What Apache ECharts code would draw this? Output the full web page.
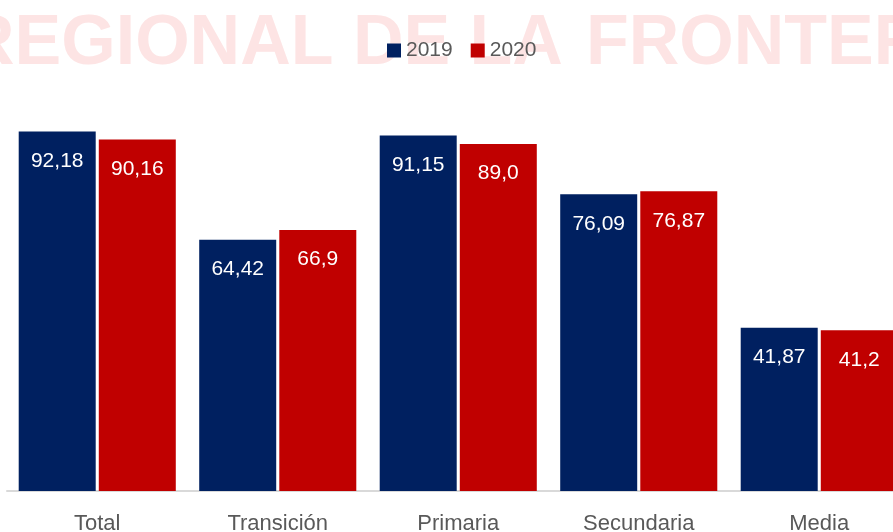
<!DOCTYPE html>
<html lang="es">
<head>
    <meta charset="UTF-8">
    <title>Cobertura 2019 - 2020</title>
    <script src="https://cdn.jsdelivr.net/npm/echarts@6/dist/echarts.min.js"></script>
</head>
<style>
    body {
        margin: 0;
        padding: 0;
        background: #ffffff;
    }
</style>
<body>

<div id="main" style="width: 893px;height: 532px;"></div>

<script>
    // datos
    var categorias = ['Total', 'Transición', 'Primaria', 'Secundaria', 'Media'];
    var valores2019 = [92.18, 64.42, 91.15, 76.09, 41.87];
    var valores2020 = [90.16, 66.9, 89.0, 76.87, 41.2];
    var etiquetas2019 = ['92,18', '64,42', '91,15', '76,09', '41,87'];
    var etiquetas2020 = ['90,16', '66,9', '89,0', '76,87', '41,2'];

    var fuente = '"Liberation Sans", Arial, sans-serif';

    function etiqueta(textos) {
        return {
            show: true,
            position: 'insideTop',
            distance: 19,
            color: '#ffffff',
            fontFamily: fuente,
            fontSize: 21,
            formatter: function (p) { return textos[p.dataIndex]; }
        };
    }

    var myChart = echarts.init(document.getElementById('main'));

    var option = {
        backgroundColor: '#ffffff',
        animation: false,
        // marca de agua de fondo
        graphic: [
            {
                type: 'text', z: 0, silent: true,
                style: {
                    text: 'REGIONAL DE LA', x: -36, y: 45,
                    textVerticalAlign: 'middle',
                    font: 'bold 70px ' + fuente,
                    fill: '#fde4e4'
                }
            },
            {
                type: 'text', z: 0, silent: true,
                style: {
                    text: 'FRONTERA', x: 586, y: 45,
                    textVerticalAlign: 'middle',
                    font: 'bold 70px ' + fuente,
                    fill: '#fde4e4'
                }
            }
        ],
        legend: {
            data: ['2019', '2020'],
            left: 382,
            top: 35,
            itemWidth: 14,
            itemHeight: 14,
            itemGap: 18,
            icon: 'rect',
            textStyle: {
                color: '#595959',
                fontFamily: fuente,
                fontSize: 21
            }
        },
        grid: {
            left: 7,
            width: 902.5,
            top: 101,
            bottom: 41,
            outerBoundsMode: 'none'
        },
        xAxis: {
            type: 'category',
            data: categorias,
            axisLine: { lineStyle: { color: '#d9d9d9', width: 2 } },
            axisTick: { show: false },
            axisLabel: {
                color: '#595959',
                fontFamily: fuente,
                fontSize: 22,
                margin: 22
            }
        },
        yAxis: {
            type: 'value',
            min: 0,
            max: 100,
            show: false,
            splitLine: { show: false }
        },
        series: [
            {
                name: '2019',
                type: 'bar',
                data: valores2019,
                barWidth: 77,
                barGap: '4%',
                itemStyle: { color: '#002060' },
                label: etiqueta(etiquetas2019)
            },
            {
                name: '2020',
                type: 'bar',
                data: valores2020,
                barWidth: 77,
                itemStyle: { color: '#c00000' },
                label: etiqueta(etiquetas2020)
            }
        ]
    };

    myChart.setOption(option);
</script>

</body>
</html>
